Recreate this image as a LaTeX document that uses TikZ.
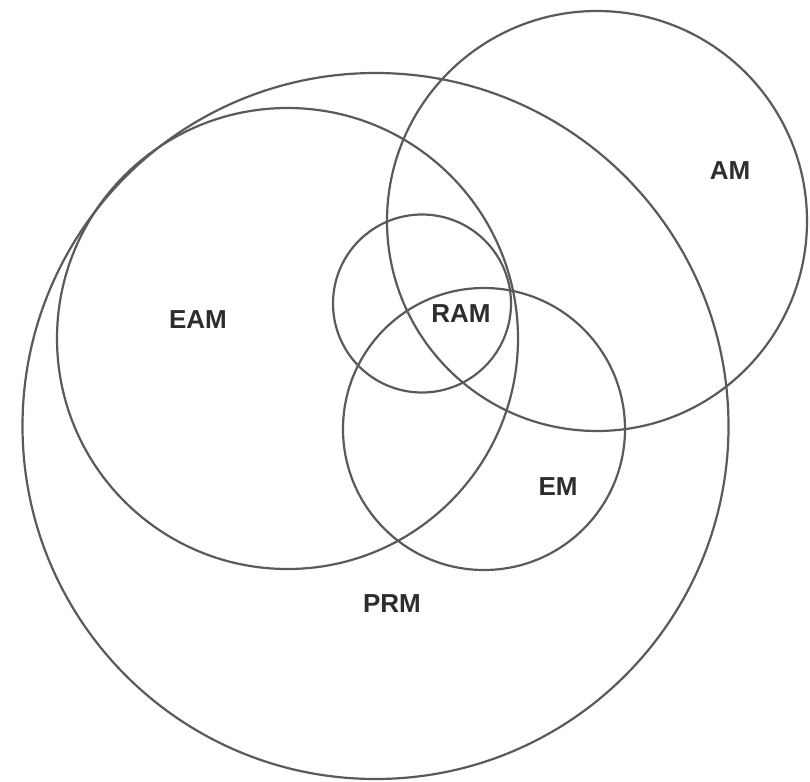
\documentclass[tikz,border=0pt]{standalone}
\usepackage{fontspec}
\setmainfont{Liberation Sans}
\usepackage{xcolor}
\definecolor{setgray}{RGB}{90,90,90}
\definecolor{labelgray}{RGB}{45,45,45}
\usetikzlibrary{positioning}

\tikzset{
  setcircle/.style={draw=setgray, line width=2.2pt, circle, inner sep=0pt, minimum size=#1},
  setlabel/.style={text=labelgray, font=\fontsize{26}{28}\selectfont\bfseries, inner sep=0pt}
}

\begin{document}
\begin{tikzpicture}[x=1pt, y=-1pt]

\useasboundingbox (0,0) rectangle (810,781);

% === Sets ===
\node[setcircle=706pt] (prm) at (375.5,426) {};
\node[setcircle=461pt] (eam) at (287.5,338.5) {};
\node[setcircle=420pt] (am)  at (597,221) {};
\node[setcircle=178pt] (ram) at (422,303.5) {};
\node[setcircle=282pt] (em)  at (484,429) {};

% === Labels ===
\node[setlabel] (amlabel)  at (730,171) {AM};
\node[setlabel] (eamlabel) at (198,320) {EAM};
\node[setlabel] (ramlabel) at (461,314) {RAM};
\node[setlabel] (emlabel)  at (558,487) {EM};
\node[setlabel] (prmlabel) at (392,604) {PRM};

\end{tikzpicture}
\end{document}
